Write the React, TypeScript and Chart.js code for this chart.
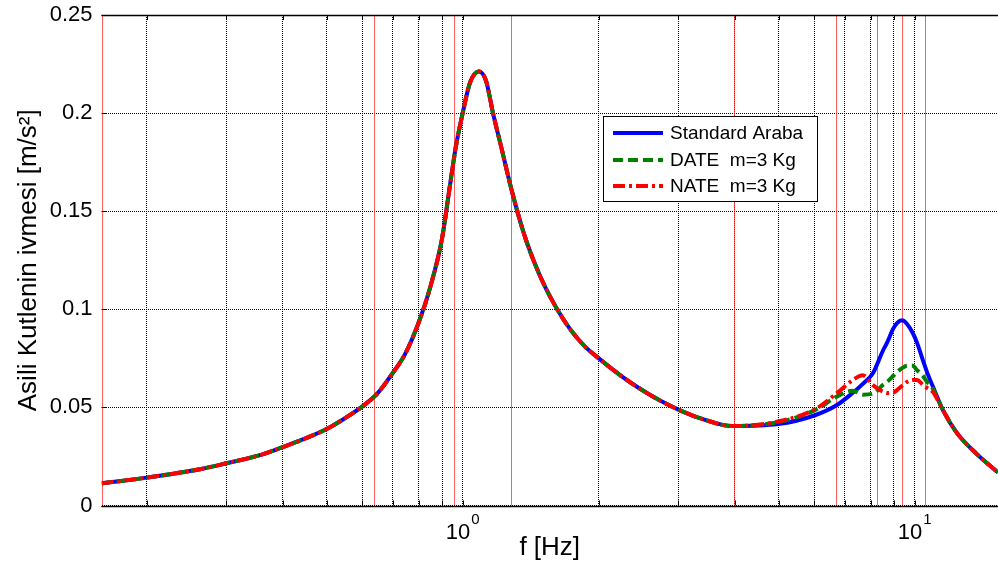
import React, { useEffect, useRef } from "react";
import { Chart, registerables } from "chart.js";

Chart.register(...registerables);

const freqHz = [
  0.159, 0.2, 0.262, 0.3, 0.356, 0.4, 0.46, 0.5, 0.549, 0.6, 0.65, 0.7, 0.745, 0.8, 0.847, 0.9, 0.937, 0.966,
  1.0, 1.038, 1.087, 1.126, 1.167, 1.222, 1.279, 1.373, 1.483, 1.6, 1.727, 1.865, 2.013, 2.229, 2.468, 2.733,
  3.026, 3.35, 3.963, 4.985, 6.017, 6.73, 7.3, 7.68, 8.09, 8.51, 8.69, 8.96, 9.14, 9.38, 9.62, 9.91, 10.12,
  10.43, 10.65, 10.98, 11.55, 12.41, 13.73, 15.29,
];

const standardAraba = [
  0.0113, 0.0142, 0.0185, 0.0215, 0.0257, 0.0298, 0.0352, 0.039, 0.0445, 0.0505, 0.0575, 0.0675, 0.077, 0.0935,
  0.111, 0.136, 0.163, 0.183, 0.2, 0.2155, 0.2212, 0.2165, 0.2, 0.181, 0.162, 0.137, 0.117, 0.102, 0.09, 0.081,
  0.0745, 0.0665, 0.0595, 0.0535, 0.0485, 0.0445, 0.0405, 0.0415, 0.046, 0.0512, 0.0575, 0.062, 0.0675, 0.079,
  0.083, 0.09, 0.093, 0.0944, 0.0925, 0.0878, 0.083, 0.074, 0.068, 0.0605, 0.0486, 0.0369, 0.0262, 0.0168,
];

const dateM3 = [
  0.0113, 0.0142, 0.0185, 0.0215, 0.0257, 0.0298, 0.0352, 0.039, 0.0445, 0.0505, 0.0575, 0.0675, 0.077, 0.0935,
  0.111, 0.136, 0.163, 0.183, 0.2, 0.2155, 0.2212, 0.2165, 0.2, 0.181, 0.162, 0.137, 0.117, 0.102, 0.09, 0.081,
  0.0745, 0.0665, 0.0595, 0.0535, 0.0485, 0.0445, 0.0405, 0.0425, 0.0486, 0.0555, 0.0585, 0.0565, 0.057, 0.0615,
  0.063, 0.066, 0.068, 0.07, 0.0712, 0.0712, 0.069, 0.066, 0.063, 0.0595, 0.0486, 0.0369, 0.0262, 0.0168,
];

const nateM3 = [
  0.0113, 0.0142, 0.0185, 0.0215, 0.0257, 0.0298, 0.0352, 0.039, 0.0445, 0.0505, 0.0575, 0.0675, 0.077, 0.0935,
  0.111, 0.136, 0.163, 0.183, 0.2, 0.2155, 0.2212, 0.2165, 0.2, 0.181, 0.162, 0.137, 0.117, 0.102, 0.09, 0.081,
  0.0745, 0.0665, 0.0595, 0.0535, 0.0485, 0.0445, 0.0405, 0.0428, 0.049, 0.0573, 0.064, 0.0664, 0.0613, 0.058,
  0.0573, 0.0575, 0.0588, 0.061, 0.063, 0.064, 0.064, 0.0615, 0.06, 0.0578, 0.0486, 0.0369, 0.0262, 0.0168,
];

const markerFreqs = [0.1588, 0.6365, 0.955, 1.277, 3.99, 6.7, 8.27, 9.39, 10.52];
const gridFreqs = [0.2, 0.3, 0.4, 0.5, 0.6, 0.7, 0.8, 0.9, 1, 2, 3, 4, 5, 6, 7, 8, 9, 10];
const decadeLabels = [1, 10];
const decadeExponents = ["0", "1"];

const seriesNames = ["Standard Araba", "DATE  m=3 Kg", "NATE  m=3 Kg"];
const seriesColors = ["rgb(0,0,255)", "rgb(0,128,0)", "rgb(255,0,0)"];
const seriesDashes: number[][] = [[], [10, 5], [12, 4, 3, 4]];

const X_MIN = 0.1588;
const X_MAX = 15.29;
const FONT = "'Liberation Sans', Arial, Helvetica, sans-serif";

export default function App() {
  const ref = useRef<HTMLCanvasElement>(null);

  useEffect(() => {
    const canvas = ref.current!;
    const series = [standardAraba, dateM3, nateM3];

    const overlay = {
      id: "overlay",
      beforeDatasetsDraw(chart: any) {
        const { ctx, chartArea: a, scales } = chart;
        const x = scales.x;
        ctx.save();
        ctx.beginPath();
        ctx.rect(a.left, a.top, a.right - a.left, a.bottom - a.top);
        ctx.clip();
        ctx.strokeStyle = "rgba(255,40,40,0.75)";
        ctx.lineWidth = 1;
        for (const f of markerFreqs) {
          const px = Math.round(x.getPixelForValue(f)) + 0.5;
          ctx.beginPath();
          ctx.moveTo(px, a.top);
          ctx.lineTo(px, a.bottom);
          ctx.stroke();
        }
        ctx.restore();
      },
      afterDraw(chart: any) {
        const { ctx, chartArea: a, scales } = chart;
        const x = scales.x;
        const y = scales.y;
        ctx.save();
        ctx.strokeStyle = "#000";
        ctx.lineWidth = 1;
        for (const f of gridFreqs) {
          const px = Math.round(x.getPixelForValue(f)) + 0.5;
          ctx.beginPath();
          ctx.moveTo(px, a.bottom);
          ctx.lineTo(px, a.bottom - 5);
          ctx.moveTo(px, a.top);
          ctx.lineTo(px, a.top + 5);
          ctx.stroke();
        }
        for (const t of y.ticks) {
          const py = Math.round(y.getPixelForValue(t.value)) + 0.5;
          ctx.beginPath();
          ctx.moveTo(a.left, py);
          ctx.lineTo(a.left + 5, py);
          ctx.stroke();
        }
        ctx.lineWidth = 1.5;
        ctx.beginPath();
        ctx.moveTo(a.left, Math.round(a.bottom) + 0.5);
        ctx.lineTo(a.right, Math.round(a.bottom) + 0.5);
        ctx.moveTo(a.left, Math.round(a.top) + 0.5);
        ctx.lineTo(a.right, Math.round(a.top) + 0.5);
        ctx.stroke();

        ctx.fillStyle = "#000";
        ctx.textBaseline = "alphabetic";
        ctx.textAlign = "left";
        decadeLabels.forEach((v, i) => {
          const px = x.getPixelForValue(v);
          ctx.font = `22px ${FONT}`;
          const w1 = ctx.measureText("10").width;
          ctx.font = `15px ${FONT}`;
          const w2 = ctx.measureText(decadeExponents[i]).width;
          const start = px - (w1 + w2 + 1) / 2;
          ctx.font = `22px ${FONT}`;
          ctx.fillText("10", start, 539);
          ctx.font = `15px ${FONT}`;
          ctx.fillText(decadeExponents[i], start + w1 + 1, 524);
        });

        ctx.font = `26px ${FONT}`;
        ctx.textAlign = "center";
        ctx.fillText("f [Hz]", (a.left + a.right) / 2, 555);
        ctx.save();
        ctx.translate(36, (a.top + a.bottom) / 2);
        ctx.rotate(-Math.PI / 2);
        ctx.fillText("Asili Kutlenin ivmesi [m/s\u00B2]", 0, 0);
        ctx.restore();

        const lx = 603.5, ly = 116.5, lw = 214, lh = 85;
        ctx.fillStyle = "#fff";
        ctx.fillRect(lx, ly, lw, lh);
        ctx.strokeStyle = "#000";
        ctx.lineWidth = 1;
        ctx.strokeRect(lx, ly, lw, lh);
        ctx.font = `19px ${FONT}`;
        ctx.textAlign = "left";
        ctx.textBaseline = "middle";
        const rows = [133, 160, 186];
        seriesNames.forEach((name, i) => {
          ctx.strokeStyle = seriesColors[i];
          ctx.lineWidth = 4;
          ctx.setLineDash(seriesDashes[i]);
          ctx.beginPath();
          ctx.moveTo(613, rows[i]);
          ctx.lineTo(663, rows[i]);
          ctx.stroke();
          ctx.setLineDash([]);
          ctx.fillStyle = "#000";
          ctx.fillText(name, 670, rows[i] + 1);
        });
        ctx.restore();
      },
    };

    const chart = new Chart(canvas, {
      type: "line",
      data: {
        datasets: series.map((vals, i) => ({
          label: seriesNames[i],
          data: freqHz.map((f, k) => ({ x: f, y: vals[k] })),
          borderColor: seriesColors[i],
          borderWidth: 4,
          borderDash: seriesDashes[i],
          pointRadius: 0,
          fill: false,
          cubicInterpolationMode: "monotone" as const,
          order: 3 - i,
        })),
      },
      options: {
        responsive: false,
        animation: false,
        devicePixelRatio: 1,
        layout: { padding: { top: 15, right: 0, bottom: 0, left: 0 } },
        plugins: { legend: { display: false }, tooltip: { enabled: false } },
        scales: {
          x: {
            type: "logarithmic",
            min: X_MIN,
            max: X_MAX,
            afterBuildTicks: (s: any) => {
              s.ticks = gridFreqs.map((v) => ({ value: v }));
            },
            afterFit: (s: any) => {
              s.height = 58.5;
              s.paddingLeft = 0;
              s.paddingRight = 0;
            },
            ticks: { display: false },
            grid: { color: "#000", lineWidth: 1, drawTicks: false },
            border: { display: false, dash: [1, 1] },
          },
          y: {
            type: "linear",
            min: 0,
            max: 0.25,
            afterFit: (s: any) => {
              s.width = 101.5;
              s.paddingTop = 0;
              s.paddingBottom = 0;
            },
            ticks: {
              stepSize: 0.05,
              padding: 9,
              color: "#000",
              font: { family: FONT, size: 22 },
              callback: (v: any) => String(+Number(v).toFixed(2)),
            },
            grid: { color: "#000", lineWidth: 1, drawTicks: false },
            border: { display: false, dash: [1, 1] },
          },
        },
      },
      plugins: [overlay],
    });
    return () => chart.destroy();
  }, []);

  return (
    <div style={{ position: "fixed", left: 0, top: 0, width: 998, height: 564, background: "#fff" }}>
      <canvas ref={ref} width={998} height={564} />
    </div>
  );
}
